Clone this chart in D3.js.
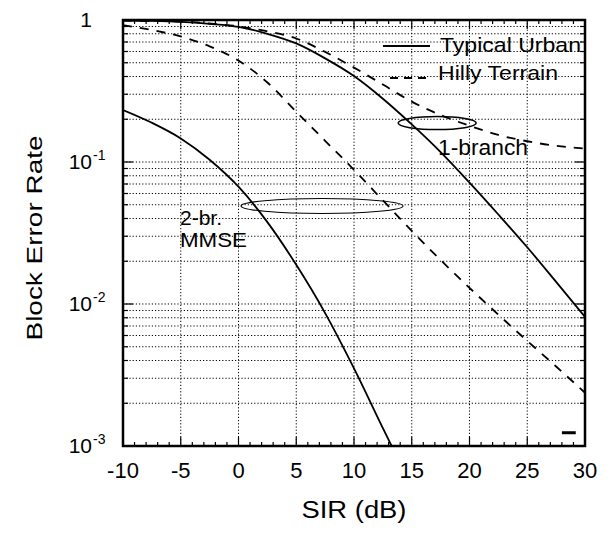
<!DOCTYPE html>
<html>
<head>
<meta charset="utf-8">
<script src="https://cdn.jsdelivr.net/npm/d3@7"></script>
<style>
  body { margin: 0; background: #fff; }
  text { font-family: "Liberation Sans", Arial, sans-serif; fill: #000; }
</style>
</head>
<body>
<div class="chart"></div>
<script>
// SIR grid (dB) used for the curves
const sirSteps = [-10, -7.5, -5, -2.5, 0, 2.5, 5, 7.5, 10, 12.5, 15, 17.5, 20, 22.5, 25, 27.5, 30];

// block error rate
const tu1Branch = [0.99, 0.985, 0.97, 0.94, 0.895, 0.80, 0.684, 0.537, 0.403, 0.279, 0.184, 0.1175, 0.0716, 0.0427, 0.0251, 0.0143, 0.0081];
const ht1Branch = [0.99, 0.985, 0.975, 0.945, 0.902, 0.832, 0.741, 0.596, 0.462, 0.351, 0.266, 0.214, 0.180, 0.155, 0.140, 0.130, 0.1245];
const ht2Branch = [0.92, 0.849, 0.766, 0.652, 0.518, 0.363, 0.226, 0.141, 0.0881, 0.0537, 0.0327, 0.0204, 0.0130, 0.00841, 0.00550, 0.00363, 0.00237];
const tu2BranchSir = [-10, -7.5, -5, -2.5, 0, 2.5, 5, 7.5, 10, 12.5, 13.5];
const tu2Branch = [0.2323, 0.1888, 0.1466, 0.1038, 0.0670, 0.0377, 0.01888, 0.00863, 0.00352, 0.001337, 0.000912];

const xTicks = [-10, -5, 0, 5, 10, 15, 20, 25, 30];
const yDecades = [1e-3, 1e-2, 1e-1, 1];
const yLabels = [["10", "-3"], ["10", "-2"], ["10", "-1"], ["1", ""]];

const margin = { top: 20, left: 123 };
const width = 462, height = 426;

const svg = d3.select('.chart').append('svg')
    .attr('width', 613)
    .attr('height', 540);

const g = svg.append('g')
    .attr('transform', 'translate(' + margin.left + ',' + margin.top + ')');

const x = d3.scaleLinear().domain([-10, 30]).range([0, width]);
const y = d3.scaleLog().domain([1e-3, 1]).range([height, 0]);

// log values 1..9 per decade
let minorY = [];
for (let k = 0; k < 3; k++) {
    for (let m = 1; m <= 9; m++) {
        minorY.push(m * Math.pow(10, -3 + k));
    }
}
minorY.push(1);

// grid
g.append('g').selectAll('line')
    .data(minorY.filter(v => v > 1e-3 && v < 1))
    .enter().append('line')
    .attr('x1', 0).attr('x2', width)
    .attr('y1', d => y(d)).attr('y2', d => y(d))
    .attr('stroke', '#000')
    .attr('stroke-width', 1)
    .attr('stroke-dasharray', '1.2,2');

g.append('g').selectAll('line')
    .data(xTicks.slice(1, -1))
    .enter().append('line')
    .attr('x1', d => x(d)).attr('x2', d => x(d))
    .attr('y1', 0).attr('y2', height)
    .attr('stroke', '#000')
    .attr('stroke-width', 1)
    .attr('stroke-dasharray', '1.2,2');

// ticks (inward, on all sides)
const xMinor = d3.range(-10, 31, 1);
const ticks = g.append('g').attr('stroke', '#000').attr('stroke-width', 1.2);
xMinor.forEach(v => {
    const len = v % 5 === 0 ? 9 : 4;
    ticks.append('line').attr('x1', x(v)).attr('x2', x(v)).attr('y1', height).attr('y2', height - len);
    ticks.append('line').attr('x1', x(v)).attr('x2', x(v)).attr('y1', 0).attr('y2', len);
});
minorY.forEach(v => {
    const isMajor = Math.abs(Math.log10(v) - Math.round(Math.log10(v))) < 1e-9;
    const len = isMajor ? 10 : 5;
    ticks.append('line').attr('x1', 0).attr('x2', len).attr('y1', y(v)).attr('y2', y(v));
    ticks.append('line').attr('x1', width).attr('x2', width - len).attr('y1', y(v)).attr('y2', y(v));
});

// curves
const line = d3.line()
    .x(d => x(d[0]))
    .y(d => y(d[1]))
    .curve(d3.curveMonotoneX);

g.append('clipPath').attr('id', 'clip')
    .append('rect').attr('width', width).attr('height', height);

const curves = g.append('g').attr('clip-path', 'url(#clip)');

curves.append('path')
    .datum(d3.zip(tu2BranchSir, tu2Branch))
    .attr('d', line)
    .attr('fill', 'none').attr('stroke', '#000').attr('stroke-width', 1.8);

curves.append('path')
    .datum(d3.zip(sirSteps, tu1Branch))
    .attr('d', line)
    .attr('fill', 'none').attr('stroke', '#000').attr('stroke-width', 1.8);

curves.append('path')
    .datum(d3.zip(sirSteps, ht1Branch))
    .attr('d', line)
    .attr('fill', 'none').attr('stroke', '#000').attr('stroke-width', 1.8)
    .attr('stroke-dasharray', '9,8');

curves.append('path')
    .datum(d3.zip(sirSteps, ht2Branch))
    .attr('d', line)
    .attr('fill', 'none').attr('stroke', '#000').attr('stroke-width', 1.8)
    .attr('stroke-dasharray', '9,8');

// small mark near bottom right
g.append('line')
    .attr('x1', x(28)).attr('x2', x(29.2))
    .attr('y1', y(1.24e-3)).attr('y2', y(1.24e-3))
    .attr('stroke', '#000').attr('stroke-width', 3);

// ellipses marking curve groups
g.append('ellipse')
    .attr('cx', x(17.2)).attr('cy', y(0.188))
    .attr('rx', 39).attr('ry', 6.5)
    .attr('fill', 'none').attr('stroke', '#000').attr('stroke-width', 1.6);

g.append('ellipse')
    .attr('cx', x(7.23)).attr('cy', y(0.049))
    .attr('rx', 81).attr('ry', 7.5)
    .attr('fill', 'none').attr('stroke', '#000').attr('stroke-width', 1.1);

// frame
g.append('rect')
    .attr('width', width).attr('height', height)
    .attr('fill', 'none').attr('stroke', '#000').attr('stroke-width', 2.5);

// x tick labels
g.append('g').selectAll('text')
    .data(xTicks)
    .enter().append('text')
    .attr('x', d => x(d))
    .attr('y', height + 32)
    .attr('text-anchor', 'middle')
    .style('font-size', '22px')
    .text(d => d);

// y tick labels
const yl = g.append('g');
yDecades.forEach((v, i) => {
    const lab = yLabels[i];
    yl.append('text')
        .attr('x', -31)
        .attr('y', y(v) + 7)
        .attr('text-anchor', 'end')
        .style('font-size', '21px')
        .text(lab[0]);
    if (lab[1]) {
        yl.append('text')
            .attr('x', -30)
            .attr('y', y(v) - 2)
            .style('font-size', '14px')
            .text(lab[1]);
    }
});

// axis titles
svg.append('text')
    .attr('x', 354)
    .attr('y', 518)
    .attr('text-anchor', 'middle')
    .attr('textLength', 105)
    .attr('lengthAdjust', 'spacingAndGlyphs')
    .style('font-size', '23px')
    .text('SIR (dB)');

svg.append('text')
    .attr('transform', 'translate(42,238) rotate(-90)')
    .attr('text-anchor', 'middle')
    .attr('textLength', 205)
    .attr('lengthAdjust', 'spacingAndGlyphs')
    .style('font-size', '22px')
    .text('Block Error Rate');

// legend
const legend = svg.append('g');
legend.append('line')
    .attr('x1', 383).attr('x2', 430).attr('y1', 46).attr('y2', 46)
    .attr('stroke', '#000').attr('stroke-width', 1.8);
legend.append('text')
    .attr('x', 440).attr('y', 52)
    .attr('textLength', 141)
    .attr('lengthAdjust', 'spacingAndGlyphs')
    .style('font-size', '21px')
    .text('Typical Urban');
legend.append('line')
    .attr('x1', 390).attr('x2', 428).attr('y1', 78).attr('y2', 78)
    .attr('stroke', '#000').attr('stroke-width', 1.8)
    .attr('stroke-dasharray', '8,6');
legend.append('text')
    .attr('x', 438).attr('y', 80)
    .attr('textLength', 120)
    .attr('lengthAdjust', 'spacingAndGlyphs')
    .style('font-size', '21px')
    .text('Hilly Terrain');

// annotations
svg.append('text')
    .attr('x', 438).attr('y', 155)
    .attr('textLength', 90)
    .attr('lengthAdjust', 'spacingAndGlyphs')
    .style('font-size', '22px')
    .text('1-branch');
svg.append('text')
    .attr('x', 180).attr('y', 225)
    .style('font-size', '21px')
    .text('2-br.');
svg.append('text')
    .attr('x', 180).attr('y', 247)
    .attr('textLength', 67)
    .attr('lengthAdjust', 'spacingAndGlyphs')
    .style('font-size', '21px')
    .text('MMSE');
</script>
</body>
</html>
